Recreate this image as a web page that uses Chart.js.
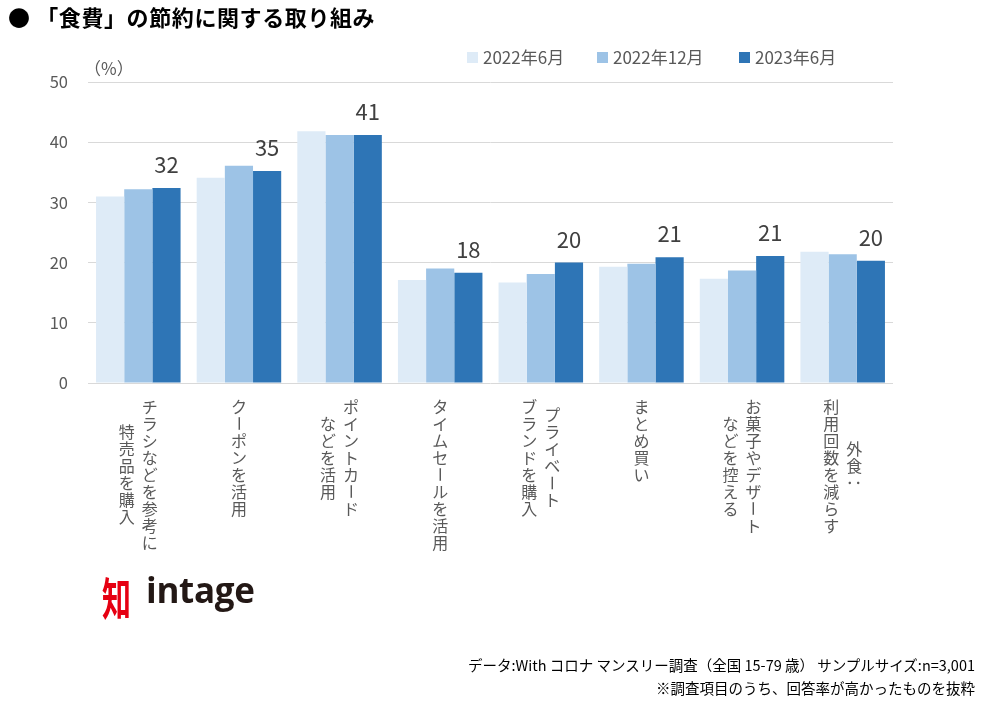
<!DOCTYPE html>
<html lang="ja">
<head>
<meta charset="utf-8">
<script src="https://cdn.jsdelivr.net/npm/chart.js@4/dist/chart.umd.min.js"></script>
<style>
    body { margin: 0; background: #fff; font-family: 'Noto Sans CJK JP', sans-serif; }
    #wrap { position: relative; width: 988px; height: 702px; overflow: hidden; }
    #chart { position: absolute; left: 0; top: 0; }
    .title { position: absolute; left: 8px; top: 0px; font-size: 22px; font-weight: bold; color: #000; letter-spacing: 0.6px; }
    .unit { position: absolute; left: 84px; top: 55px; font-size: 17px; color: #595959; }
    .note { position: absolute; right: 13px; font-size: 14.5px; color: #000; text-align: right; }
    .logo { position: absolute; left: 100px; top: 568px; height: 64px; }
    .logo .mark { position: absolute; left: 2px; top: 6px; font-size: 29px; font-weight: bold; color: #e60012; line-height: 1; transform: scaleY(1.55); transform-origin: top left; }
    .logo .name { position: absolute; left: 46px; top: 4px; font-family: 'Open Sans', sans-serif; font-size: 35px; font-weight: 700; color: #231815; line-height: 1; letter-spacing: -0.3px; }
</style>
</head>
<body>
<div id="wrap">
    <canvas id="chart" width="988" height="702"></canvas>
    <div class="title">● 「食費」の節約に関する取り組み</div>
    <div class="unit">（%）</div>
    <div class="logo"><span class="mark">知</span><span class="name">intage</span></div>
    <div class="note" style="top:654px">データ:With コロナ マンスリー調査（全国 15-79 歳） サンプルサイズ:n=3,001</div>
    <div class="note" style="top:677px">※調査項目のうち、回答率が高かったものを抜粋</div>
</div>
<script>
// categories, one array of lines per bar group (first line = rightmost column)
var categories = [
    ["チラシなどを参考に", "特売品を購入"],
    ["クーポンを活用"],
    ["ポイントカード", "などを活用"],
    ["タイムセールを活用"],
    ["プライベート", "ブランドを購入"],
    ["まとめ買い"],
    ["お菓子やデザート", "などを控える"],
    ["外食：", "利用回数を減らす"]
]

var seriesNames = ["2022年6月", "2022年12月", "2023年6月"]
var jun2022 = [31.0, 34.1, 41.8, 17.1, 16.7, 19.3, 17.3, 21.8]
var dec2022 = [32.2, 36.1, 41.2, 19.0, 18.1, 19.8, 18.7, 21.4]
var jun2023 = [32.4, 35.2, 41.2, 18.3, 20.0, 20.9, 21.1, 20.3]
var yTicks = [0, 10, 20, 30, 40, 50]

var colors = {
    light: "#deebf7",
    mid: "#9dc3e6",
    dark: "#2e75b6",
    grid: "#d9d9d9",
    text: "#595959",
    value: "#404040"
}

var fontFamily = "'Noto Sans CJK JP', sans-serif"

// legend, value labels and vertical category labels
var decorations = {
    id: 'decorations',
    afterDraw: function (chart) {
        var ctx = chart.ctx
        var x = chart.scales.x
        ctx.save()

        // legend
        var legendX = [467, 597, 739]
        ctx.font = "17px " + fontFamily
        ctx.textBaseline = 'middle'
        ctx.textAlign = 'left'
        chart.data.datasets.forEach(function (ds, i) {
            ctx.fillStyle = ds.backgroundColor
            ctx.fillRect(legendX[i], 52, 11, 11)
            ctx.fillStyle = colors.text
            ctx.fillText(ds.label, legendX[i] + 16, 58)
        })

        // value labels on the latest series
        var meta = chart.getDatasetMeta(2)
        ctx.font = "22px " + fontFamily
        ctx.fillStyle = colors.value
        ctx.textAlign = 'center'
        ctx.textBaseline = 'alphabetic'
        meta.data.forEach(function (bar, i) {
            ctx.fillText(Math.round(jun2023[i]), bar.x, bar.y - 15)
        })

        // vertical (tategaki) category labels
        var step = 17
        var top = 398
        ctx.font = "16px " + fontFamily
        ctx.fillStyle = colors.text
        ctx.textBaseline = 'middle'
        categories.forEach(function (lines, i) {
            var cx = x.getPixelForValue(i)
            var longest = Math.max.apply(null, lines.map(function (l) { return l.length }))
            var gap = 23
            lines.forEach(function (line, j) {
                var colX = cx + (lines.length - 1) * gap / 2 - j * gap
                var startY = top + (longest - line.length) * step / 2
                Array.from(line).forEach(function (ch, k) {
                    var cy = startY + k * step + step / 2
                    if (ch === 'ー' || ch === '：') {
                        ctx.save()
                        ctx.translate(colX, cy)
                        ctx.rotate(Math.PI / 2)
                        ctx.fillText(ch, 0, 0)
                        ctx.restore()
                    } else {
                        ctx.fillText(ch, colX, cy)
                    }
                })
            })
        })
        ctx.restore()
    }
}

new Chart(document.getElementById('chart'), {
    type: 'bar',
    data: {
        labels: categories,
        datasets: [
            { label: seriesNames[0], backgroundColor: colors.light, data: jun2022 },
            { label: seriesNames[1], backgroundColor: colors.mid, data: dec2022 },
            { label: seriesNames[2], backgroundColor: colors.dark, data: jun2023 }
        ]
    },
    options: {
        responsive: false,
        animation: false,
        devicePixelRatio: 1,
        categoryPercentage: 0.84,
        barPercentage: 1.0,
        layout: {
            padding: { top: 82, right: 95, bottom: 319, left: 0 }
        },
        plugins: {
            legend: { display: false },
            tooltip: { enabled: false }
        },
        scales: {
            x: {
                grid: { display: false },
                border: { display: false },
                ticks: { display: false },
                afterFit: function (s) { s.height = 0 }
            },
            y: {
                min: 0,
                max: 50,
                afterFit: function (s) { s.width = 88 },
                afterBuildTicks: function (s) { s.ticks = yTicks.map(function (v) { return { value: v } }) },
                grid: { color: colors.grid, lineWidth: 1, drawTicks: false },
                border: { display: false },
                ticks: {
                    padding: 20,
                    color: colors.text,
                    font: { size: 16.5, family: fontFamily }
                }
            }
        }
    },
    plugins: [decorations]
});
</script>
</body>
</html>
